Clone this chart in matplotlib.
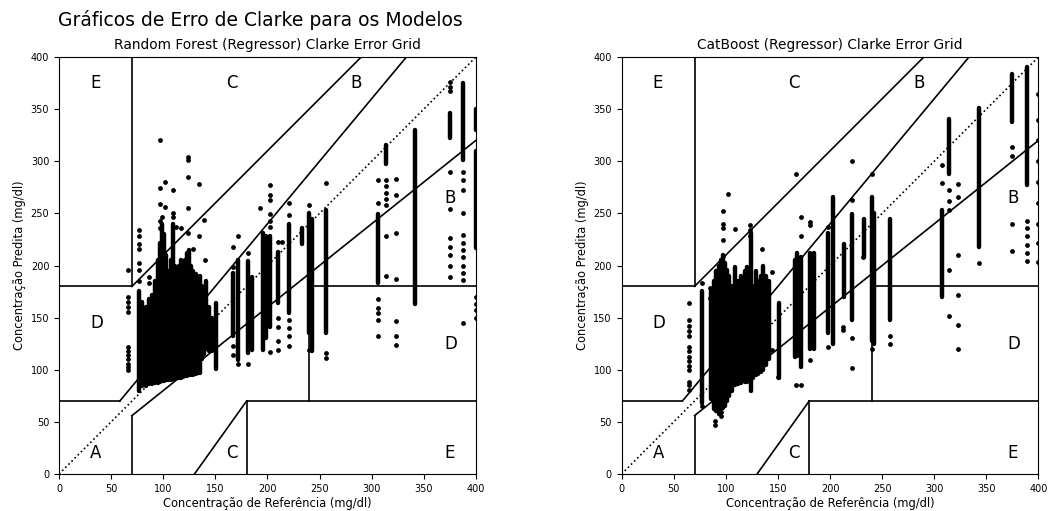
import matplotlib
matplotlib.use("Agg")
import matplotlib.pyplot as plt

# Random Forest: dense runs of predictions per reference value (x, low, high)
rf_col_x = [77, 80, 83, 86, 89, 92, 95, 97, 99, 101, 103, 105, 107, 109, 111, 113, 115, 117,
            119, 121, 123, 125, 127, 129, 131, 133, 135, 137, 139, 141, 144, 147,
            151, 167, 172, 181, 185, 196, 199, 202, 210, 221, 233, 240, 243, 256,
            306, 314, 342, 375, 388, 400, 400]
rf_col_lo = [80, 84, 84, 86, 86, 87, 87, 88, 89, 89, 90, 90, 90, 91, 91, 92, 92, 92,
             93, 94, 94, 95, 95, 95, 96, 97, 97, 110, 115, 120, 118, 118,
             101, 132, 109, 116, 119, 119, 130, 141, 164, 154, 221, 135, 118, 135,
             183, 297, 163, 322, 301, 217, 330]
rf_col_hi = [176, 165, 160, 168, 172, 185, 205, 222, 240, 230, 210, 195, 205, 240, 200, 190, 200, 205,
             200, 205, 212, 215, 200, 195, 192, 185, 190, 180, 175, 185, 160, 150,
             164, 193, 205, 204, 189, 231, 228, 228, 213, 240, 236, 250, 245, 253,
             249, 316, 330, 346, 375, 310, 350]

# Random Forest: isolated predictions
rf_pt_x = [66] * 12 + [77] * 7 + [86] * 2 + [97] * 5 + [99, 102, 102] + [109] * 3 + [112, 117] \
    + [124] * 5 + [129, 134.6, 134.6, 139, 140] + [167] * 4 + [172] * 2 + [181] * 2 + [193] \
    + [202] * 7 + [210] * 5 + [214] + [221] * 6 + [240] * 2 + [256] * 3 + [306] * 7 + [314] * 7 \
    + [323] * 7 + [375] * 10 + [388] * 12 + [400] * 4
rf_pt_y = [100, 103, 106, 110, 114, 118, 122, 155, 160, 165, 170, 196,
           185, 196, 202, 216, 221, 228, 234,
           189, 183,
           320, 274, 259, 243, 236,
           247, 280, 256,
           272, 250, 247,
           237, 236,
           304, 301, 285, 255, 231,
           216, 278, 228, 244, 205,
           218, 199, 123, 114,
           228, 106,
           212, 106,
           255,
           277, 268, 263, 249, 243, 237, 117,
           223, 150, 141, 128, 119,
           223,
           260, 248, 148, 140, 132, 123,
           258, 119,
           279, 116, 111,
           282, 260, 168, 159, 154, 148, 132,
           282, 276, 270, 264, 258, 228, 190,
           283, 268, 231, 187, 147, 132, 124,
           376, 371, 367, 290, 254, 226, 218, 210, 200, 189,
           290, 282, 272, 250, 229, 222, 215, 208, 200, 193, 186, 145,
           170, 163, 157, 150]

# CatBoost: dense runs of predictions per reference value (x, low, high)
cb_col_x = [77, 86, 89, 91, 93, 95, 97, 99, 101, 103, 106, 109, 112, 115, 118, 120, 122, 124,
            126, 129, 131, 134, 136, 139, 141, 151, 166, 168, 172, 181, 185, 198, 203,
            213, 221, 233, 240, 242, 258, 307, 314, 343, 375, 389]
cb_col_lo = [68, 72, 62, 60, 58, 62, 63, 65, 70, 75, 80, 85, 86, 87, 88, 88, 90, 80,
             92, 95, 96, 98, 100, 105, 110, 92, 112, 113, 103, 120, 120, 135, 125,
             170, 148, 208, 128, 125, 148, 170, 288, 218, 338, 277]
cb_col_hi = [176, 176, 185, 195, 200, 205, 210, 202, 196, 190, 180, 199, 185, 190, 195, 199, 190, 231,
             180, 195, 185, 190, 200, 190, 185, 164, 205, 212, 208, 212, 212, 231, 266,
             221, 249, 245, 266, 250, 245, 253, 341, 351, 384, 390]

# CatBoost: isolated predictions
cb_pt_x = [64.5] * 14 + [77] * 2 + [85] * 2 + [90] * 2 + [95] * 3 + [97] * 5 + [102, 109] \
    + [123] * 3 + [135] + [144] * 2 + [150] + [167] * 2 + [172] * 3 + [181] * 3 + [198] * 2 \
    + [212] * 2 + [221] * 4 + [232] + [240] * 2 + [258] * 2 + [307] * 2 + [314] * 5 \
    + [323] * 6 + [343] + [375] * 4 + [389] * 6 + [400] * 9
cb_pt_y = [81, 85, 88, 100, 104, 108, 112, 118, 122, 132, 137, 142, 148, 164,
           183, 65,
           178, 169,
           51, 47,
           59, 56, 65,
           252, 240, 236, 224, 209,
           269, 235,
           239, 234, 228,
           216,
           194, 119,
           93,
           288, 85,
           247, 228, 85,
           242, 239, 109,
           237, 122,
           141, 138,
           300, 263, 130, 102,
           208,
           288, 120,
           132, 125,
           296, 279,
           272, 262, 253, 196, 152,
           278, 266, 210, 172, 143, 120,
           202,
           314, 305, 240, 214,
           243, 236, 228, 220, 212, 204,
           365, 340, 320, 300, 280, 260, 240, 222, 203]

model_titles = ["Random Forest (Regressor) Clarke Error Grid",
                "CatBoost (Regressor) Clarke Error Grid"]

# zone letters and where they sit
zone_labels = ["A", "B", "B", "C", "C", "D", "D", "E", "E"]
zone_x = [30, 370, 280, 160, 160, 30, 370, 30, 370]
zone_y = [15, 260, 370, 370, 15, 140, 120, 370, 15]


def clarke_grid(ax, col_x, col_lo, col_hi, pt_x, pt_y, title):
    ax.vlines(col_x, col_lo, col_hi, colors='black', linewidth=3.2, capstyle='round')
    ax.scatter(pt_x, pt_y, marker='o', color='black', s=12, linewidths=0)

    lw = 1.2
    ax.plot([0, 400], [0, 400], ':', c='black', lw=lw)
    ax.plot([0, 175 / 3], [70, 70], '-', c='black', lw=lw)
    ax.plot([175 / 3, 400 / 1.2], [70, 400], '-', c='black', lw=lw)
    ax.plot([70, 70], [180, 400], '-', c='black', lw=lw)
    ax.plot([0, 70], [180, 180], '-', c='black', lw=lw)
    ax.plot([70, 290], [180, 400], '-', c='black', lw=lw)
    ax.plot([70, 70], [0, 56], '-', c='black', lw=lw)
    ax.plot([70, 400], [56, 320], '-', c='black', lw=lw)
    ax.plot([180, 180], [0, 70], '-', c='black', lw=lw)
    ax.plot([180, 400], [70, 70], '-', c='black', lw=lw)
    ax.plot([240, 240], [70, 180], '-', c='black', lw=lw)
    ax.plot([240, 400], [180, 180], '-', c='black', lw=lw)
    ax.plot([130, 180], [0, 70], '-', c='black', lw=lw)

    for lab, x, y in zip(zone_labels, zone_x, zone_y):
        ax.text(x, y, lab, fontsize=12)

    ax.set_xlim(0, 400)
    ax.set_ylim(0, 400)
    ax.set_xticks(range(0, 401, 50))
    ax.set_yticks(range(0, 401, 50))
    ax.tick_params(labelsize=7)
    ax.set_xlabel('Concentração de Referência (mg/dl)', fontsize=8.3, labelpad=2)
    ax.set_ylabel('Concentração Predita (mg/dl)', fontsize=8.3, labelpad=3)
    ax.set_title(title, fontsize=9.9)


fig = plt.figure(figsize=(10.5, 5.11), dpi=100)
ax1 = fig.add_axes([0.0562, 0.0724, 0.397, 0.816])
ax2 = fig.add_axes([0.592, 0.0724, 0.397, 0.816])

clarke_grid(ax1, rf_col_x, rf_col_lo, rf_col_hi, rf_pt_x, rf_pt_y, model_titles[0])
clarke_grid(ax2, cb_col_x, cb_col_lo, cb_col_hi, cb_pt_x, cb_pt_y, model_titles[1])

fig.text(0.248, 0.96, 'Gráficos de Erro de Clarke para os Modelos', fontsize=13.5,
         ha='center', va='center')

fig.savefig('out.png', dpi=100)
